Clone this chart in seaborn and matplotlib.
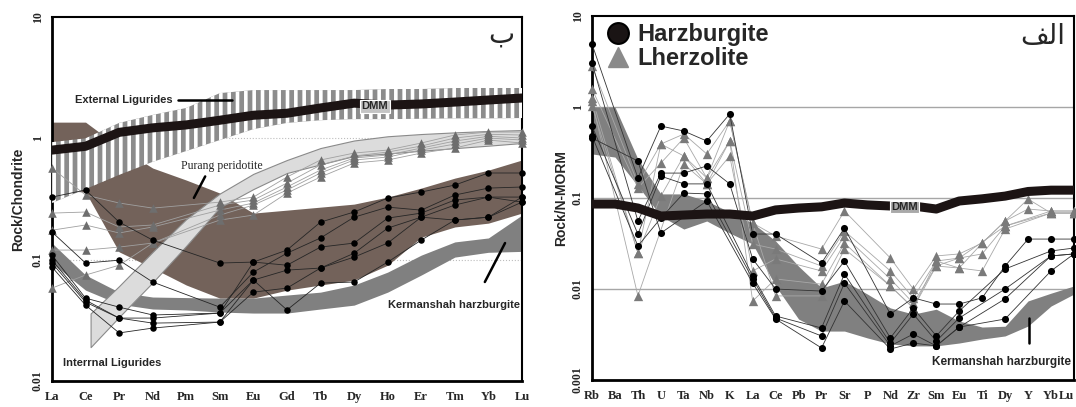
import numpy as np
import pandas as pd
import matplotlib
matplotlib.use("Agg")
import matplotlib.pyplot as plt
import seaborn as sns
from matplotlib.lines import Line2D
from matplotlib.ticker import NullLocator

nan = np.nan

# ---------------- Left panel: REE / chondrite ----------------
ree = ["La", "Ce", "Pr", "Nd", "Pm", "Sm", "Eu", "Gd", "Tb", "Dy", "Ho", "Er", "Tm", "Yb", "Lu"]
dmm_ree = [0.80, 0.86, 1.12, 1.22, 1.29, 1.41, 1.55, 1.61, 1.78, 1.95, 1.88, 1.92, 1.99, 2.07, 2.15]
ext_lig_upper = [0.93, 1.0, 1.34, 1.56, 1.78, 2.36, 2.5, 2.5, 2.5, 2.5, 2.55, 2.55, 2.6, 2.6, 2.6]
ext_lig_lower = [0.293, 0.382, 0.50, 0.64, 0.786, 0.968, 1.19, 1.34, 1.41, 1.44, 1.44, 1.45, 1.46, 1.46, 1.47]
brown_upper = [1.36, 1.36, 0.848, 0.569, 0.453, 0.354, 0.242, 0.256, 0.271, 0.287, 0.328, 0.389, 0.470, 0.547, 0.663]
brown_lower = [0.375, 0.361, 0.116, 0.0853, 0.0618, 0.0482, 0.0482, 0.0561, 0.0618, 0.0679, 0.090, 0.153, 0.186, 0.200, 0.242]
purang_pos = [1.15, 2, 3, 4, 5, 6, 7, 8, 9, 10, 11, 12, 13, 14]
purang_upper = [0.036, 0.0606, 0.116, 0.216, 0.351, 0.51, 0.663, 0.832, 0.96, 1.04, 1.085, 1.12, 1.15, 1.17]
purang_lower = [0.019, 0.0337, 0.065, 0.13, 0.27, 0.382, 0.518, 0.61, 0.715, 0.75, 0.79, 0.83, 0.87, 0.915]
kerm_ree_upper = [0.137, 0.0747, 0.054, 0.0492, 0.0487, 0.0482, 0.0482, 0.0511, 0.054, 0.0618, 0.079, 0.109, 0.140, 0.151, 0.233]
kerm_ree_lower = [0.0938, 0.0561, 0.043, 0.0392, 0.0385, 0.037, 0.0363, 0.0363, 0.0392, 0.0422, 0.054, 0.0747, 0.105, 0.115, 0.117]

lherz_ree = {
    "L1": [0.569, 0.341, 0.293, 0.266, nan, 0.298, 0.328, 0.480, 0.663, 0.756, 0.801, 0.915, 1.065, 1.127, 1.127],
    "L2": [0.242, 0.247, 0.186, 0.193, nan, 0.282, 0.310, 0.428, 0.603, 0.715, 0.771, 0.864, 1.006, 1.08, 1.065],
    "L3": [0.175, 0.193, 0.166, 0.186, nan, 0.256, 0.293, 0.397, 0.548, 0.688, 0.728, 0.832, 0.950, 1.04, 1.006],
    "L4": [0.120, 0.120, 0.127, 0.137, nan, 0.233, 0.282, 0.375, 0.518, 0.663, 0.701, 0.801, 0.897, 1.006, 0.968],
    "L5": [0.0583, 0.0747, 0.090, 0.137, nan, 0.212, 0.233, 0.354, 0.480, 0.626, 0.663, 0.756, 0.832, 0.968, 0.915],
}
harz_ree = {
    "H1": [0.328, 0.375, 0.204, 0.145, nan, 0.0938, 0.0955, 0.120, 0.204, 0.247, 0.322, 0.361, 0.412, 0.518, 0.518],
    "H2": [0.169, 0.0938, 0.099, 0.0654, nan, 0.0406, 0.079, 0.113, 0.151, 0.224, 0.271, 0.256, 0.341, 0.389, 0.397],
    "H3": [0.109, 0.0482, 0.0406, 0.035, nan, 0.0363, 0.0955, 0.090, 0.127, 0.137, 0.220, 0.242, 0.310, 0.328, 0.328],
    "H4": [0.099, 0.0464, 0.033, 0.033, nan, 0.0363, 0.0679, 0.082, 0.0853, 0.113, 0.182, 0.224, 0.282, 0.328, 0.298],
    "H5": [0.0938, 0.0447, 0.033, 0.030, nan, 0.0306, 0.054, 0.0583, 0.0853, 0.105, 0.137, 0.224, 0.212, 0.224, 0.298],
    "H6": [0.0869, 0.0422, 0.0249, 0.0273, nan, 0.0306, 0.0679, 0.0385, 0.0641, 0.0654, 0.0955, 0.145, 0.212, 0.224, 0.328],
}

# ---------------- Right panel: N-MORB normalised ----------------
spider = ["Rb", "Ba", "Th", "U", "Ta", "Nb", "K", "La", "Ce", "Pb", "Pr", "Sr", "P", "Nd", "Zr", "Sm", "Eu", "Ti", "Dy", "Y", "Yb", "Lu"]
dmm_sp = [0.0859, 0.0859, 0.0776, 0.0634, 0.065, 0.0667, 0.0667, 0.0634, 0.074, 0.0776, 0.080, 0.0881, 0.084, 0.0817, 0.0817, 0.0757, 0.0927, 0.098, 0.105, 0.118, 0.122, 0.122]
kerm_sp_upper = [1.0, 1.0, 0.268, 0.111, 0.111, 0.0927, 0.0702, 0.0531, 0.0337, 0.0178, 0.0103, 0.0122, 0.0088, 0.0062, 0.0053, 0.006, 0.00445, 0.00382, 0.0039, 0.0074, 0.009, 0.0108]
kerm_sp_lower = [0.305, 0.282, 0.136, 0.0634, 0.0456, 0.0559, 0.0412, 0.0312, 0.0108, 0.00468, 0.00345, 0.00345, 0.0029, 0.00249, 0.00237, 0.00237, 0.00255, 0.00282, 0.00305, 0.00392, 0.0065, 0.0088]

harz_sp = {
    "HR1": [4.92, nan, 0.166, 0.618, 0.545, 0.423, 0.838, 0.0402, 0.0402, nan, 0.0193, 0.0468, nan, 0.0053, 0.0080, 0.00684, 0.00684, 0.0080, 0.0179, 0.0354, 0.0354, 0.0354],
    "HR2": [3.04, nan, 0.0559, 0.188, 0.188, 0.225, 0.143, 0.0214, 0.0100, nan, 0.0095, 0.0203, nan, 0.0029, 0.00618, 0.00305, 0.00573, nan, 0.0166, nan, 0.0262, 0.0282],
    "HR3": [0.618, nan, 0.0402, 0.174, 0.143, 0.143, nan, 0.0139, 0.00505, nan, 0.00373, 0.0146, nan, 0.00255, 0.0053, 0.00268, 0.0048, nan, 0.0100, nan, 0.0231, 0.0243],
    "HR4": [0.48, nan, 0.0297, 0.0603, 0.1135, 0.111, nan, 0.0129, 0.0048, nan, 0.00305, 0.0116, nan, 0.00237, 0.0032, 0.00237, 0.00382, nan, 0.0078, nan, 0.0231, 0.0243],
    "HR5": [0.456, nan, 0.255, 0.0412, nan, 0.0927, nan, 0.0116, 0.00468, nan, 0.00225, 0.00738, nan, 0.00219, 0.00255, 0.00237, 0.00382, nan, 0.00468, nan, 0.0158, 0.0243],
}
lherz_sp = {
    "LR1": [2.82, nan, 0.143, 0.392, 0.505, 0.305, 0.702, 0.0531, 0.0382, nan, 0.0275, 0.072, nan, 0.0219, 0.0100, 0.0231, 0.0243, 0.032, 0.0559, 0.0757, 0.072, 0.072],
    "LR2": [1.58, nan, 0.129, 0.242, 0.456, 0.166, 0.423, 0.0312, 0.0275, nan, 0.0179, 0.0434, nan, 0.0158, 0.0080, 0.0203, 0.0219, 0.0243, 0.0492, nan, 0.0684, 0.0684],
    "LR3": [1.26, nan, 0.0249, 0.105, 0.290, 0.143, 0.290, 0.0158, 0.0214, nan, 0.0158, 0.0382, nan, 0.0129, 0.0070, 0.0179, 0.0170, 0.0158, 0.0456, nan, 0.0684, 0.0684],
    "LR4": [1.16, nan, 0.0084, nan, 0.236, 0.143, 0.423, 0.00738, 0.0129, nan, 0.0113, 0.032, nan, 0.0108, 0.00618, 0.0179, 0.0219, nan, 0.0492, nan, 0.072, 0.072],
    "LR5": [1.03, nan, 0.0249, 0.392, 0.290, 0.166, 0.702, 0.0531, 0.0084, nan, 0.0084, 0.0275, nan, 0.0108, 0.00618, 0.0203, 0.0170, 0.032, 0.0559, 0.0975, 0.0684, 0.0684],
}

# ---------------- styling ----------------
sns.set_theme(style="white")
plt.rcParams["font.family"] = ["Liberation Sans", "DejaVu Sans"]
plt.rcParams["hatch.linewidth"] = 2.6

BROWN = "#73625a"
GREY_BAND = "#808080"
SERIF = ["Liberation Serif", "DejaVu Serif"]

fig = plt.figure(figsize=(10.76, 4.07), dpi=100)
fig.patch.set_facecolor("white")
ax1 = fig.add_axes([0.0483, 0.0639, 0.4368, 0.8943])
ax2 = fig.add_axes([0.5502, 0.0663, 0.4479, 0.8943])


def profiles_frame(profiles, labels):
    rows = []
    for name, vals in profiles.items():
        for i, v in enumerate(vals):
            rows.append((name, i, labels[i], v))
    return pd.DataFrame(rows, columns=["sample", "pos", "element", "value"]).dropna()


def draw_profiles(ax, profiles, labels, lcolor, mcolor, marker, ms, lw, z):
    df = profiles_frame(profiles, labels)
    sns.lineplot(data=df, x="pos", y="value", units="sample", estimator=None,
                 color=lcolor, lw=lw, ax=ax, legend=False, zorder=z, sort=False)
    sns.scatterplot(data=df, x="pos", y="value", marker=marker, s=ms, color=mcolor,
                    edgecolor=mcolor, linewidth=0, ax=ax, legend=False, zorder=z + 0.5,
                    clip_on=False)


def style_axes(ax, labels, ymin, yticks, ylabels, ylabel):
    ax.set_yscale("log")
    ax.set_ylim(ymin, 10)
    ax.set_xlim(0, len(labels) - 1)
    ax.set_xticks(range(len(labels)))
    ax.set_xticklabels(labels, fontfamily=SERIF, fontweight="bold", fontsize=9)
    ax.set_yticks(yticks)
    ax.set_yticklabels(ylabels, fontfamily=SERIF, fontweight="bold", fontsize=8.5,
                       rotation=90, va="center")
    ax.yaxis.set_minor_locator(NullLocator())
    ax.tick_params(axis="both", direction="out", length=5, width=1.4, color="black", pad=2)
    ax.tick_params(axis="y", pad=1)
    ax.set_xlabel("")
    ax.set_ylabel(ylabel, fontsize=10, fontweight="bold", labelpad=4)
    for side in ["left", "bottom"]:
        ax.spines[side].set_linewidth(2.0)
        ax.spines[side].set_color("black")
    for side in ["top", "right"]:
        ax.spines[side].set_linewidth(1.5)
        ax.spines[side].set_color("black")
    ax.grid(False)


# ---------------- Left panel ----------------
xr = list(range(len(ree)))
ax1.set_yscale("log")
ax1.fill_between(xr, brown_lower, brown_upper, color=BROWN, lw=0, zorder=1)
ax1.fill_between(xr, kerm_ree_lower, kerm_ree_upper, color=GREY_BAND, lw=0, zorder=2)
ax1.fill_between(purang_pos, purang_lower, purang_upper, facecolor="#dcdcdc",
                 edgecolor="#8a8a8a", lw=0.8, zorder=3)
ax1.fill_between(xr, ext_lig_lower, ext_lig_upper, facecolor="#8c8c8c",
                 edgecolor="white", hatch="||", lw=0, zorder=4)
ax1.axhline(1, color="#bdbdbd", lw=0.8, ls=":", zorder=0.5)
ax1.axhline(0.1, color="#bdbdbd", lw=0.8, ls=":", zorder=0.5)

draw_profiles(ax1, lherz_ree, ree, "#a0a0a0", "#6e6e6e", "^", 38, 0.6, 5)
draw_profiles(ax1, harz_ree, ree, "#262626", "black", "o", 22, 0.6, 6)
sns.lineplot(x=xr, y=dmm_ree, color="#1c1414", lw=6.5, ax=ax1, legend=False, zorder=8)

style_axes(ax1, ree, 0.01, [0.01, 0.1, 1, 10], ["0.01", "0.1", "1", "10"], "Rock/Chondrite")
ax1.yaxis.set_label_coords(-0.058, 0.5)

tA = ax1.transAxes
ax1.text(0.153, 0.772, "External Ligurides", transform=tA, fontsize=8, fontweight="bold",
         ha="center", va="center", zorder=10)
ax1.plot([0.268, 0.383], [0.772, 0.772], transform=tA, color="black", lw=1.8, zorder=10)
ax1.text(0.687, 0.755, "DMM", transform=tA, fontsize=8, fontweight="bold", ha="center",
         va="center", zorder=10,
         bbox=dict(boxstyle="square,pad=0.12", fc="#c4c4c4", ec="white", lw=0.8))
ax1.text(0.362, 0.591, "Purang peridotite", transform=tA, fontsize=8.5, fontfamily=SERIF,
         ha="center", va="center", zorder=10)
ax1.plot([0.326, 0.302], [0.562, 0.503], transform=tA, color="black", lw=1.8, zorder=10)
ax1.text(0.855, 0.209, "Kermanshah harzburgite", transform=tA, fontsize=8, fontweight="bold",
         ha="center", va="center", zorder=10)
ax1.plot([0.964, 0.921], [0.379, 0.272], transform=tA, color="black", lw=1.8, zorder=10)
ax1.text(0.128, 0.049, "Interrnal Ligurides", transform=tA, fontsize=8, fontweight="bold",
         ha="center", va="center", zorder=10)
ax1.text(0.955, 0.952, "\u0628", transform=tA, fontsize=20, family=["DejaVu Sans"],
         ha="center", va="center", zorder=10)

# ---------------- Right panel ----------------
xs = list(range(len(spider)))
ax2.set_yscale("log")
ax2.fill_between(xs, kerm_sp_lower, kerm_sp_upper, color=GREY_BAND, lw=0, zorder=1)
for yv in [1, 0.1, 0.01]:
    ax2.axhline(yv, color="#a6a6a6", lw=1.0, zorder=0.8)

draw_profiles(ax2, lherz_sp, spider, "#a8a8a8", "#7a7a7a", "^", 45, 0.6, 5)
draw_profiles(ax2, harz_sp, spider, "#333333", "black", "o", 26, 0.6, 6)
sns.lineplot(x=xs, y=dmm_sp, color="#1c1414", lw=6.5, ax=ax2, legend=False, zorder=8)

style_axes(ax2, spider, 0.001, [0.001, 0.01, 0.1, 1, 10],
           ["0.001", "0.01", "0.1", "1", "10"], "Rock/N-MORM")
ax2.yaxis.set_label_coords(-0.05, 0.5)

tB = ax2.transAxes
ax2.text(0.649, 0.475, "DMM", transform=tB, fontsize=8, fontweight="bold", ha="center",
         va="center", zorder=10,
         bbox=dict(boxstyle="square,pad=0.12", fc="#a9a9a9", ec="white", lw=0.8))
ax2.text(0.849, 0.049, "Kermanshah harzburgite", transform=tB, fontsize=8.5, fontweight="bold",
         ha="center", va="center", zorder=10)
ax2.plot([0.907, 0.907], [0.170, 0.102], transform=tB, color="black", lw=1.8, zorder=10)
ax2.text(0.936, 0.945, "\ufed2\ufedf\u0627", transform=tB, fontsize=20, family=["DejaVu Sans"],
         ha="center", va="center", zorder=10)

handles = [
    Line2D([], [], ls="none", marker="o", ms=15, mfc="#1a1414", mec="black", mew=1.5),
    Line2D([], [], ls="none", marker="^", ms=15, mfc="#8a8a8a", mec="#8a8a8a"),
]
leg = ax2.legend(handles, ["Harzburgite", "Lherzolite"], loc="upper left",
                 bbox_to_anchor=(0.0, 1.02), frameon=False, handlelength=1.0,
                 handletextpad=0.3, labelspacing=0.05, borderaxespad=0.2,
                 prop=dict(family="Liberation Sans", weight="bold", size=17))
leg.set_zorder(12)

# the last right-hand tick label sits on the figure edge (as in the reference);
# anchor it to the right so it stays fully visible
ax2.get_xticklabels()[-1].set_ha("right")

fig.savefig("out.png", dpi=100)
